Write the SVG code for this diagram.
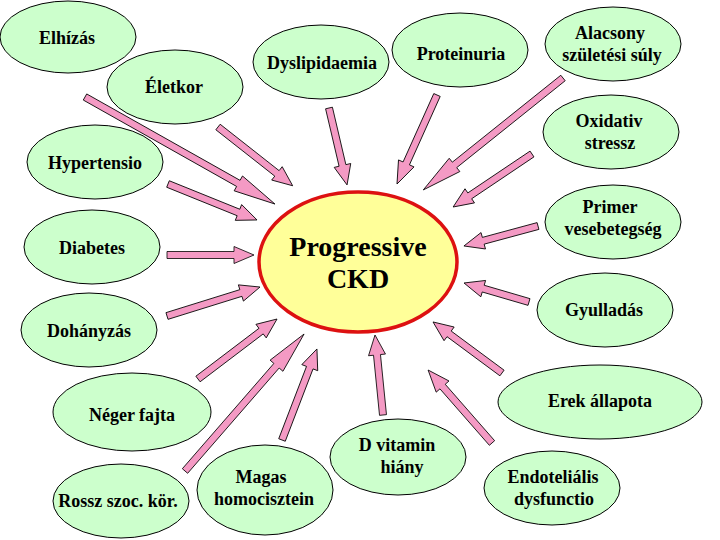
<svg xmlns="http://www.w3.org/2000/svg" width="720" height="540" viewBox="0 0 720 540">
<style>
.n{fill:#ccffcc;stroke:#000;stroke-width:1}
.c{fill:#ffff99;stroke:#dd1111;stroke-width:3.5}
.t{font-weight:bold;font-size:18px;fill:#000;text-anchor:middle}
.ct{font-weight:bold;font-size:28px;fill:#000;text-anchor:middle}
.a{fill:#f49ac4;stroke:#000;stroke-width:0.8;stroke-linejoin:miter}
</style>
<rect width="720" height="540" fill="#fff"/>
<g id="connectors">
<path class="a" transform="translate(85,97) rotate(29.4)" d="M0,-3.5 H176 V-8.5 L218,0 L176,8.5 V3.5 H0 Z"/>
<path class="a" transform="translate(218,127) rotate(38.2)" d="M0,-3.5 H75 V-8.5 L95,0 L75,8.5 V3.5 H0 Z"/>
<path class="a" transform="translate(329,108) rotate(76.8)" d="M0,-3.5 H59 V-8.5 L79,0 L59,8.5 V3.5 H0 Z"/>
<path class="a" transform="translate(437,95) rotate(114.2)" d="M0,-3.5 H75 V-8.5 L97.6,0 L75,8.5 V3.5 H0 Z"/>
<path class="a" transform="translate(563,78) rotate(141.3)" d="M0,-3.5 H139 V-8.5 L179,0 L139,8.5 V3.5 H0 Z"/>
<path class="a" transform="translate(532,154) rotate(146.1)" d="M0,-3.5 H75 V-8.5 L95,0 L75,8.5 V3.5 H0 Z"/>
<path class="a" transform="translate(538,226) rotate(164.9)" d="M0,-3.5 H56.7 V-8.5 L76.7,0 L56.7,8.5 V3.5 H0 Z"/>
<path class="a" transform="translate(529,302) rotate(-163.7)" d="M0,-3.5 H47.7 V-8.5 L67.7,0 L47.7,8.5 V3.5 H0 Z"/>
<path class="a" transform="translate(502,373) rotate(-143.5)" d="M0,-3.5 H65.8 V-8.5 L85.8,0 L65.8,8.5 V3.5 H0 Z"/>
<path class="a" transform="translate(492,443) rotate(-131.2)" d="M0,-3.5 H75 V-8.5 L97,0 L75,8.5 V3.5 H0 Z"/>
<path class="a" transform="translate(383,415) rotate(-95.7)" d="M0,-3.5 H60.4 V-8.5 L80.4,0 L60.4,8.5 V3.5 H0 Z"/>
<path class="a" transform="translate(282,440) rotate(-69)" d="M0,-3.5 H77.5 V-8.5 L97.5,0 L77.5,8.5 V3.5 H0 Z"/>
<path class="a" transform="translate(185,471) rotate(-49)" d="M0,-3.5 H139.5 V-8.5 L181.5,0 L139.5,8.5 V3.5 H0 Z"/>
<path class="a" transform="translate(198,379) rotate(-37.2)" d="M0,-3.5 H79.2 V-8.5 L99.2,0 L79.2,8.5 V3.5 H0 Z"/>
<path class="a" transform="translate(167,316) rotate(-17.3)" d="M0,-3.5 H77.4 V-8.5 L97.4,0 L77.4,8.5 V3.5 H0 Z"/>
<path class="a" transform="translate(167,255)" d="M0,-3.5 H67 V-8.5 L87,0 L67,8.5 V3.5 H0 Z"/>
<path class="a" transform="translate(168,184) rotate(22)" d="M0,-3.5 H76 V-8.5 L96,0 L76,8.5 V3.5 H0 Z"/>
</g>
<g font-family="Liberation Serif, DejaVu Serif, Times New Roman, serif">
<g id="center"><ellipse class="c" cx="358" cy="262" rx="99" ry="70"/><text class="ct" x="358" y="256">Progressive</text><text class="ct" x="358" y="288">CKD</text></g>
<g id="elhizas"><ellipse class="n" cx="68" cy="37" rx="68" ry="36"/><text class="t" x="67" y="44">Elhízás</text></g>
<g id="eletkor"><ellipse class="n" cx="175" cy="87" rx="68" ry="37"/><text class="t" x="174" y="93">Életkor</text></g>
<g id="dyslipidaemia"><ellipse class="n" cx="321" cy="62" rx="68" ry="37"/><text class="t" x="322" y="69">Dyslipidaemia</text></g>
<g id="proteinuria"><ellipse class="n" cx="460" cy="50" rx="68" ry="37"/><text class="t" x="461" y="60">Proteinuria</text></g>
<g id="alacsony"><ellipse class="n" cx="613" cy="44" rx="68" ry="37"/><text class="t" x="610" y="39">Alacsony</text><text class="t" x="612" y="61">születési súly</text></g>
<g id="oxidativ"><ellipse class="n" cx="611" cy="132" rx="68" ry="37"/><text class="t" x="609" y="127">Oxidativ</text><text class="t" x="610" y="149">stressz</text></g>
<g id="hypertensio"><ellipse class="n" cx="95" cy="162" rx="68" ry="37"/><text class="t" x="95" y="169">Hypertensio</text></g>
<g id="diabetes"><ellipse class="n" cx="92" cy="247" rx="68" ry="37"/><text class="t" x="92" y="254">Diabetes</text></g>
<g id="dohanyzas"><ellipse class="n" cx="89" cy="330" rx="68" ry="37"/><text class="t" x="89" y="337">Dohányzás</text></g>
<g id="neger"><ellipse class="n" cx="132" cy="412" rx="79" ry="39"/><text class="t" x="132" y="421">Néger fajta</text></g>
<g id="rossz"><ellipse class="n" cx="121" cy="501" rx="68" ry="37"/><text class="t" x="118" y="507">Rossz szoc. kör.</text></g>
<g id="magas"><ellipse class="n" cx="265" cy="490" rx="68" ry="45"/><text class="t" x="261" y="483">Magas</text><text class="t" x="264" y="505">homocisztein</text></g>
<g id="dvitamin"><ellipse class="n" cx="398" cy="457" rx="68" ry="38"/><text class="t" x="397" y="451">D vitamin</text><text class="t" x="402" y="473">hiány</text></g>
<g id="erek"><ellipse class="n" cx="600" cy="402" rx="102" ry="37"/><text class="t" x="600" y="407">Erek állapota</text></g>
<g id="endotelialis"><ellipse class="n" cx="552" cy="488" rx="68" ry="37"/><text class="t" x="553" y="483">Endoteliális</text><text class="t" x="554" y="505">dysfunctio</text></g>
<g id="primer"><ellipse class="n" cx="613" cy="222" rx="68" ry="37"/><text class="t" x="610" y="213">Primer</text><text class="t" x="613" y="235">vesebetegség</text></g>
<g id="gyulladas"><ellipse class="n" cx="605" cy="310" rx="68" ry="37"/><text class="t" x="604" y="316">Gyulladás</text></g>
</g>
</svg>
